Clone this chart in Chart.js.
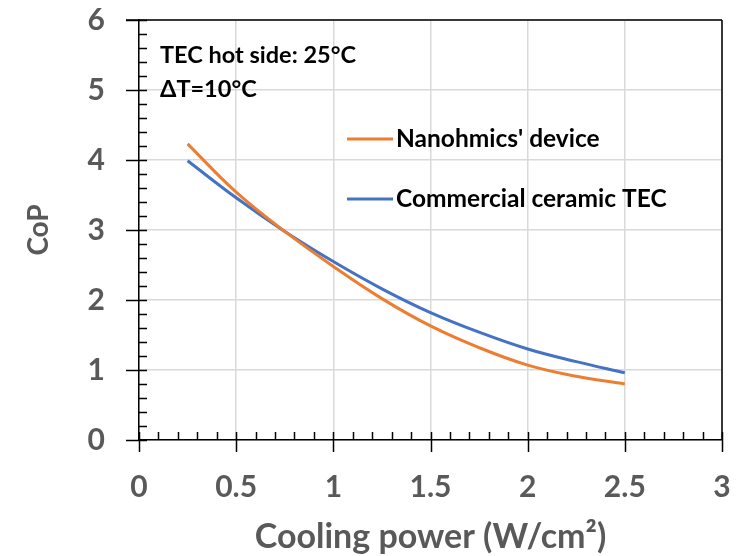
<!DOCTYPE html>
<html>
<head>
<meta charset="utf-8">
<script src="https://cdn.jsdelivr.net/npm/chart.js@4/dist/chart.umd.min.js"></script>
<style>
html,body{margin:0;padding:0;background:#fff;}
#wrap{width:743px;height:556px;position:relative;}
</style>
</head>
<body>
<div id="wrap"><canvas id="c" width="743" height="556"></canvas></div>
<script>
// ---- data ----
const coolingPower = [0.25, 0.5, 0.75, 1.0, 1.25, 1.5, 1.75, 2.0, 2.25, 2.5];
const nanohmicsCoP = [4.23, 3.54, 2.98, 2.48, 2.02, 1.63, 1.32, 1.07, 0.91, 0.80];
const commercialCoP = [3.99, 3.46, 2.98, 2.55, 2.16, 1.82, 1.54, 1.30, 1.12, 0.96];
const seriesNames = ["Nanohmics' device", "Commercial ceramic TEC"];
const annotationLines = ["TEC hot side: 25°C", "ΔT=10°C"];
const xTitle = "Cooling power (W/cm²)";
const yTitle = "CoP";

const FONT = "Lato, 'Open Sans', sans-serif";
const ORANGE = '#ED7D31', BLUE = '#4472C4', GRAY = '#595959';

const decor = {
  id: 'decor',
  afterDatasetsDraw(chart) {
    const ctx = chart.ctx, a = chart.chartArea;
    const xs = chart.scales.x, ys = chart.scales.y;
    ctx.save();
    ctx.strokeStyle = '#000';
    ctx.lineWidth = 1.5;
    ctx.beginPath();
    ctx.moveTo(a.left - 13, a.top); ctx.lineTo(a.right, a.top);
    ctx.moveTo(a.right, a.top); ctx.lineTo(a.right, a.bottom);
    ctx.stroke();
    ctx.beginPath();
    for (let i = 0; i <= 30; i++) {
      const v = i / 10;
      const px = Math.round(xs.getPixelForValue(v)) + 0.5;
      if (i % 5 === 0) { ctx.moveTo(px, a.bottom - 8); ctx.lineTo(px, a.bottom + 12); }
      else { ctx.moveTo(px, a.bottom - 8); ctx.lineTo(px, a.bottom); }
    }
    for (let i = 0; i <= 30; i++) {
      const v = i / 5;
      const py = Math.round(ys.getPixelForValue(v)) + 0.5;
      if (i % 5 === 0) { ctx.moveTo(a.left - 13, py); ctx.lineTo(a.left + 8, py); }
      else { ctx.moveTo(a.left, py); ctx.lineTo(a.left + 8, py); }
    }
    ctx.stroke();
    ctx.fillStyle = '#000';
    ctx.font = "bold 23.5px " + FONT;
    ctx.textBaseline = 'alphabetic';
    ctx.textAlign = 'left';
    ctx.fillText(annotationLines[0], 160, 63);
    ctx.fillText(annotationLines[1], 160, 97);
    ctx.font = "bold 24.5px " + FONT;
    const legend = [[seriesNames[0], ORANGE, 139], [seriesNames[1], BLUE, 199]];
    legend.forEach(([name, col, y]) => {
      ctx.strokeStyle = col; ctx.lineWidth = 3;
      ctx.beginPath(); ctx.moveTo(347, y); ctx.lineTo(393, y); ctx.stroke();
      ctx.fillStyle = '#000';
      ctx.textBaseline = 'middle';
      ctx.fillText(name, 396, y);
    });
    ctx.restore();
  }
};

new Chart(document.getElementById('c'), {
  type: 'line',
  data: {
    datasets: [
      { label: seriesNames[0], data: coolingPower.map((x, i) => ({x, y: nanohmicsCoP[i]})),
        borderColor: ORANGE, borderWidth: 3, pointRadius: 0, tension: 0.4, fill: false },
      { label: seriesNames[1], data: coolingPower.map((x, i) => ({x, y: commercialCoP[i]})),
        borderColor: BLUE, borderWidth: 3, pointRadius: 0, tension: 0.4, fill: false }
    ]
  },
  options: {
    responsive: false,
    animation: false,
    layout: { padding: { top: 20, right: 21, left: 0, bottom: 0 } },
    plugins: { legend: { display: false }, tooltip: { enabled: false } },
    scales: {
      x: {
        type: 'linear', min: 0, max: 3,
        ticks: { stepSize: 0.5, color: GRAY, font: { family: FONT, size: 30, weight: 'bold' }, padding: 29, maxRotation: 0,
                 callback: v => String(v) },
        grid: { color: '#d9d9d9', lineWidth: 1.5, drawTicks: false },
        border: { display: true, color: '#000', width: 1.5 },
        title: { display: true, text: xTitle, color: GRAY, font: { family: FONT, size: 34, weight: 'bold' }, padding: { top: 0, bottom: -1 } },
        afterFit(s) { s.height = 116; s.paddingLeft = 0; s.paddingRight = 0; }
      },
      y: {
        type: 'linear', min: 0, max: 6,
        ticks: { stepSize: 1, color: GRAY, font: { family: FONT, size: 30, weight: 'bold' }, padding: 34,
                 callback: v => String(v) },
        grid: { color: '#d9d9d9', lineWidth: 1.5, drawTicks: false },
        border: { display: true, color: '#000', width: 1.5 },
        title: { display: true, text: yTitle, color: GRAY, font: { family: FONT, size: 28, weight: 'bold' }, padding: { top: 22, bottom: 0 } },
        afterFit(s) { s.width = 139; s.paddingTop = 0; s.paddingBottom = 0; }
      }
    }
  },
  plugins: [decor]
});
</script>
</body>
</html>
